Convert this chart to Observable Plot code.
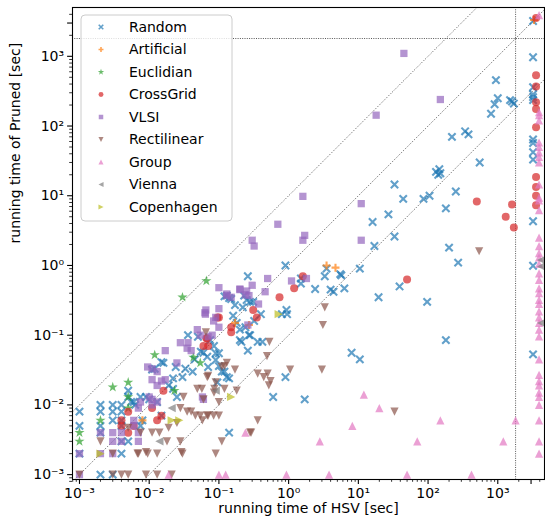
<!DOCTYPE html>
<html><head><meta charset="utf-8">
<script src="https://cdn.jsdelivr.net/npm/d3@7"></script>
<script src="https://cdn.jsdelivr.net/npm/@observablehq/plot@0.6"></script>
<style>body{margin:0;background:#fff}</style>
</head><body><div id="chart"></div>
<script>
const TLE = 3000;      // time-limit-exceeded position
const LIMIT = 1800;    // time limit (dotted lines)

// [HSV time, Pruned time] in seconds
const random = [
 [0.001,0.008],[0.001,0.005],[0.001,0.002],
 [0.002,0.01],[0.002,0.008],[0.002,0.005],[0.002,0.004],[0.002,0.001],
 [0.003,0.01],[0.003,0.008],[0.003,0.006],[0.003,0.001],
 [0.004,0.01],[0.004,0.008],[0.004,0.006],[0.004,0.005],[0.004,0.003],[0.004,0.002],
 [0.005,0.003],[0.005,0.016],[0.005,0.013],
 [0.0055,0.011],[0.006,0.011],[0.0063,0.01],[0.0075,0.013],[0.009,0.013],[0.01,0.012],[0.008,0.006],[0.0075,0.005],
 [0.013,0.011],[0.015,0.007],[0.012,0.033],[0.011,0.032],[0.016,0.04],[0.015,0.041],
 [0.019,0.019],[0.022,0.017],[0.025,0.013],[0.024,0.035],[0.033,0.033],[0.042,0.03],
 [0.036,0.1],[0.05,0.095],[0.075,0.085],[0.06,0.056],[0.068,0.049],[0.055,0.058],[0.09,0.044],[0.07,0.035],
 [0.12,0.03],[0.13,0.025],[0.14,0.024],[0.095,0.021],[0.11,0.03],[0.1,0.036],[0.09,0.055],[0.1,0.055],
 [0.13,0.37],[0.14,0.34],[0.15,0.33],[0.25,0.32],[0.28,0.3],[0.16,0.19],[0.2,0.12],[0.27,0.1],[0.28,0.1],
 [0.2,0.085],[0.21,0.08],[0.36,0.08],[0.42,0.08],[0.26,0.06],[0.14,0.004],
 [0.26,0.7],[0.23,0.37],[0.12,0.36],[0.31,0.3],[0.4,0.2],
 [0.9,1.0],[0.93,0.23],[0.95,0.2],[0.8,0.2],[0.9,0.025],[0.6,0.013],[1.7,0.012],
 [1.5,0.65],[1.5,0.55],[2.4,0.46],[3.3,0.7],[3.5,0.9],[4,0.45],[4.4,0.42],[5.5,0.75],[5.7,0.72],[6.3,0.47],
 [10.5,0.9],[8,0.056],[10.5,0.045],[19.5,0.35],[39,0.5],[97,0.3],[180,0.085],[200,1.8],[270,1.1],
 [17,1.9],[33,2.6],[16,4.2],[27,5.4],[33,14.5],[44,9],[86,9],[105,10],
 [150,21],[140,20],[130,22],[145,24],[180,6.6],[250,11.5],[550,30],[220,70],[340,84],[380,76],
 [940,455],[1000,250],[900,205],[800,150],[1500,235],[1700,210],[1600,225],
 [0.18,0.15],[0.22,0.25],[0.17,0.27],[0.32,0.16],[0.24,0.13],[0.085,0.07],[0.045,0.045],[0.03,0.025],[0.022,0.024],
 [TLE,970],[TLE,360],[TLE,285],[TLE,260],[TLE,235],[TLE,64],[TLE,57],[TLE,42],[TLE,33],[TLE,4.3],[TLE,0.99],[TLE,0.053],[TLE,TLE]
];
const artificial = [[3.5,1.0],[4.7,0.93],[0.17,0.15],[0.27,0.14],[0.008,0.006],[TLE,TLE]];
const euclidian = [[0.066,0.6],[0.03,0.35],[0.012,0.052],[0.005,0.021],[0.003,0.018],[0.005,0.013],[0.005,0.009],
 [0.023,0.016],[0.001,0.004],[0.001,0.003],[0.002,0.006],[0.043,0.048],[0.054,0.04]];
const crossGrid = [[0.1,0.18],[0.15,0.13],[0.15,0.11],[0.31,0.23],[0.35,0.18],[0.06,0.07],[0.068,0.09],[0.016,0.016],
 [0.011,0.009],[0.005,0.008],[0.013,0.006],[0.006,0.005],[0.004,0.006],[0.004,0.005],[0.005,0.004],[0.015,0.007],
 [1.6,0.7],[1.2,0.47],[0.74,0.35],[0.095,0.18],[0.066,0.09],[0.07,0.07],[50,0.63],[500,8.3],[1600,7.5],[1300,5],[1700,3.5],
 [TLE,535],[TLE,370],[TLE,220],[TLE,175],[TLE,96],[TLE,18.5],[TLE,13.3],[TLE,10],[TLE,7.3],[TLE,TLE]];
const vlsi = [[45,1100],[150,240],[18,143],[1.6,9.8],[11,7.7],[0.7,3.9],[0.3,2.3],[0.32,1.9],[1.6,2.3],[1.7,2.7],[11,2.3],
 [0.5,0.65],[1.1,0.6],[1.8,0.65],[0.1,0.48],[0.2,0.45],[0.25,0.43],[0.27,0.37],[0.46,0.42],[0.37,0.28],[0.13,0.37],
 [0.15,0.35],[0.1,0.24],[0.065,0.23],[0.063,0.21],[0.09,0.18],[0.1,0.13],[0.26,0.14],[0.08,0.1],[0.07,0.095],
 [0.2,0.46],[0.3,0.52],[0.13,0.39],[0.24,0.38],[0.064,0.2],[0.084,0.16],[0.049,0.12],[0.054,0.1],[0.036,0.078],
 [0.028,0.078],[0.035,0.065],[0.04,0.06],[0.017,0.06],[0.025,0.04],[0.0095,0.035],[0.011,0.033],[0.013,0.03],
 [0.017,0.023],[0.015,0.022],[0.013,0.011],[0.011,0.01],[0.0075,0.011],[0.007,0.009],[0.006,0.006],[0.006,0.005],
 [0.007,0.004],[0.003,0.004],[0.004,0.004],[0.002,0.004],[0.003,0.003],[0.004,0.003],[0.002,0.002],[0.003,0.002],
 [0.001,0.002],[0.001,0.001],[0.007,0.003],[0.058,0.013],[0.06,0.012],[0.01,0.013],[0.011,0.012],[0.011,0.023],[0.013,0.019]];
const rectilinear = [[3.3,0.25],[3.1,0.14],[0.53,0.08],[0.49,0.05],[0.13,0.04],[0.12,0.036],[0.17,0.032],[0.36,0.028],
 [0.5,0.028],[0.44,0.025],[0.55,0.022],[0.52,0.019],[1.05,0.032],[3.0,0.032],[0.07,0.026],[0.09,0.021],[0.12,0.017],
 [0.085,0.015],[0.1,0.011],[0.06,0.012],[0.058,0.006],[0.07,0.007],[0.1,0.007],[0.36,0.006],[0.28,0.004],[0.11,0.003],
 [0.09,0.002],[33,0.008],[540,1.6],[0.065,0.11],[0.11,0.035],[0.068,0.025],[0.086,0.017],[0.18,0.016],[0.031,0.013],
 [0.049,0.017],[0.057,0.017],[0.028,0.009],[0.035,0.008],[0.04,0.008],[0.046,0.007],[0.054,0.007],[0.068,0.007],
 [0.084,0.007],[0.019,0.0047],[0.025,0.0055],[0.011,0.004],[0.014,0.004],[0.0075,0.004],[0.29,0.004],[0.0068,0.002],
 [0.0095,0.002],[0.013,0.002],[0.03,0.002],[0.001,0.001],[0.003,0.001],[0.004,0.001],[0.005,0.001],
 [0.009,0.001],[0.013,0.001],[0.021,0.001],[0.002,0.003],[0.018,0.003],[0.028,0.003],[0.007,0.002],[0.009,0.0021],
 [0.029,0.0021],[0.005,0.0047],[0.003,0.002]];
const group = [[TLE,158],[TLE,143],[TLE,120],[TLE,58],[TLE,50],[TLE,42],[TLE,36],[TLE,30],[TLE,14.5],[TLE,9.4],[TLE,8.6],
 [TLE,6.2],[TLE,2.5],[TLE,1.9],[TLE,1.5],[TLE,1.3],[TLE,1.05],[TLE,0.77],[TLE,0.62],[TLE,0.47],[TLE,0.4],[TLE,0.32],
 [TLE,0.28],[TLE,0.22],[TLE,0.18],[TLE,0.15],[TLE,0.12],[TLE,0.096],[TLE,0.045],[TLE,0.027],[TLE,0.022],[TLE,0.019],
 [TLE,0.015],[TLE,0.013],[TLE,0.01],[TLE,0.006],[TLE,0.003],[TLE,0.002],[TLE,TLE],
 [12,0.014],[20,0.009],[8.2,0.005],[150,0.006],[1800,0.006],[1200,0.003],[70,0.003],[2.8,0.003],[0.24,0.004],
 [0.1,0.001],[0.125,0.001],[0.93,0.001],[3.8,0.001],[50,0.001],[420,0.001],[0.019,0.001]];
const vienna = [[TLE,1.2],[TLE,0.97],[TLE,0.15],[0.021,0.009],[0.014,0.003],[0.09,0.016]];
const copenhagen = [[0.72,0.2],[0.15,0.013],[0.021,0.006],[0.027,0.006],[0.002,0.002]];

const majorTicks = [1e-3,1e-2,1e-1,1,10,100,1000,TLE];
const sup = {"-":"\u207B","0":"\u2070","1":"\u00B9","2":"\u00B2","3":"\u00B3"};
const fmt = d => d === TLE ? "TLE" : "10" + String(Math.round(Math.log10(d))).split("").map(c => sup[c]).join("");
const minorTicks = [];
for (let k = -4; k <= 3; k++) for (let m = 2; m <= 9; m++) {
  const v = m * 10 ** k;
  if (v > 7.9e-4 && v < 4700 && v !== TLE) minorTicks.push(v);
}

// marker shapes
const rad = size => Math.sqrt(size / Math.PI);
const poly = pts => ({draw(ctx, size) { const r = rad(size); ctx.moveTo(pts[0][0]*r, pts[0][1]*r);
  for (const p of pts.slice(1)) ctx.lineTo(p[0]*r, p[1]*r); ctx.closePath(); }});
const symX = {draw(ctx, size) { const r = rad(size) * 0.8; ctx.moveTo(-r,-r); ctx.lineTo(r,r); ctx.moveTo(-r,r); ctx.lineTo(r,-r); }};
const symPlus = {draw(ctx, size) { const r = rad(size); ctx.moveTo(-r,0); ctx.lineTo(r,0); ctx.moveTo(0,-r); ctx.lineTo(0,r); }};
const triUp = poly([[0,-1],[1,1],[-1,1]]);
const triDown = poly([[0,1],[1,-1],[-1,-1]]);
const triLeft = poly([[-1,0],[1,-1],[1,1]]);
const triRight = poly([[1,0],[-1,-1],[-1,1]]);

// off: small pixel shift of the TLE markers (as in the reference)
const series = [
  {name: "Random", data: random, color: "#1f77b4", symbol: symX, r: 4.6, line: true, off: 2},
  {name: "Artificial", data: artificial, color: "#ff7f0e", symbol: symPlus, r: 4, line: true, off: 3},
  {name: "Euclidian", data: euclidian, color: "#2ca02c", symbol: d3.symbolStar, r: 3.2, off: 4},
  {name: "CrossGrid", data: crossGrid, color: "#d62728", symbol: d3.symbolCircle, r: 4.0, off: 5},
  {name: "VLSI", data: vlsi, color: "#9467bd", symbol: d3.symbolSquare, r: 4.1, off: 6},
  {name: "Rectilinear", data: rectilinear, color: "#8c564b", symbol: triDown, r: 4.1, off: 7},
  {name: "Group", data: group, color: "#e377c2", symbol: triUp, r: 4.1, off: 8},
  {name: "Vienna", data: vienna, color: "#7f7f7f", symbol: triLeft, r: 4.1, off: 10},
  {name: "Copenhagen", data: copenhagen, color: "#bcbd22", symbol: triRight, r: 4.1, off: 11}
];
const diagonals = [10, 1, 0.1];
const dotted = {stroke: "#444", strokeWidth: 0.9, strokeDasharray: "1,1.6"};

const dotMarks = s => {
  const style = {x: d => d[0], y: d => d[1], symbol: s.symbol, r: s.r,
    fill: s.line ? "none" : s.color, stroke: s.line ? s.color : "none",
    strokeWidth: 2.1, fillOpacity: 0.7, strokeOpacity: 0.7};
  return [
    Plot.dot(s.data.filter(d => d[0] !== TLE), style),
    Plot.dot(s.data.filter(d => d[0] === TLE && d[1] !== TLE), {...style, dx: s.off}),
    Plot.dot(s.data.filter(d => d[0] === TLE && d[1] === TLE), {...style, dx: s.off, dy: -s.off})
  ];
};

const chart = Plot.plot({
  width: 545, height: 525,
  marginLeft: 72, marginRight: 1, marginTop: 7, marginBottom: 46,
  style: {fontFamily: "DejaVu Sans", fontSize: "14px", background: "white", color: "black"},
  x: {type: "log", domain: [10 ** -3.1, 10 ** 3.67]},
  y: {type: "log", domain: [10 ** -3.07, 10 ** 3.70]},
  marks: [
    Plot.link(diagonals, {x1: () => 1e-4, y1: k => k * 1e-4, x2: () => 1e5, y2: k => k * 1e5, clip: true, ...dotted}),
    Plot.ruleY([LIMIT], {...dotted, strokeDasharray: "1,1.3"}),
    Plot.ruleX([LIMIT], {...dotted, strokeDasharray: "1,1.3"}),
    ...series.flatMap(dotMarks),
    Plot.axisX(majorTicks, {tickFormat: fmt, tickSize: 4.9, tickPadding: 3.5, fontSize: 14, label: null, strokeWidth: 1.1}),
    Plot.axisX(minorTicks, {tickFormat: () => "", tickSize: 2.8, label: null, strokeWidth: 0.8}),
    Plot.axisY(majorTicks, {tickFormat: fmt, tickSize: 4.9, tickPadding: 3.5, fontSize: 14, label: null, strokeWidth: 1.1}),
    Plot.axisY(minorTicks, {tickFormat: () => "", tickSize: 2.8, label: null, strokeWidth: 0.8}),
    Plot.frame({stroke: "black", strokeWidth: 1.1}),
    Plot.text(["running time of HSV [sec]"], {frameAnchor: "bottom", dy: 33, fontSize: 14}),
    Plot.text(["running time of Pruned [sec]"], {frameAnchor: "left", dx: -57, rotate: -90, fontSize: 14})
  ]
});

// legend
const svg = d3.select(chart);
const lg = svg.append("g").attr("transform", "translate(81,15)");
lg.append("rect").attr("width", 151).attr("height", 206).attr("rx", 4)
  .attr("fill", "white").attr("fill-opacity", 0.8).attr("stroke", "#ccc").attr("stroke-width", 1);
series.forEach((s, i) => {
  const y = 12 + i * 22.5;
  const size = Math.PI * (s.r * 0.62) ** 2;
  const p = d3.path(); s.symbol.draw(p, size);
  lg.append("path").attr("d", p.toString()).attr("transform", `translate(20,${y})`)
    .attr("fill", s.line ? "none" : s.color).attr("stroke", s.line ? s.color : "none")
    .attr("stroke-width", 1.6).attr("opacity", 0.7);
  lg.append("text").attr("x", 48).attr("y", y).attr("dy", "0.35em").attr("text-anchor", "start")
    .attr("font-family", "DejaVu Sans").attr("font-size", 14).attr("fill", "black").text(s.name);
});
document.getElementById("chart").append(chart);
</script></body></html>
